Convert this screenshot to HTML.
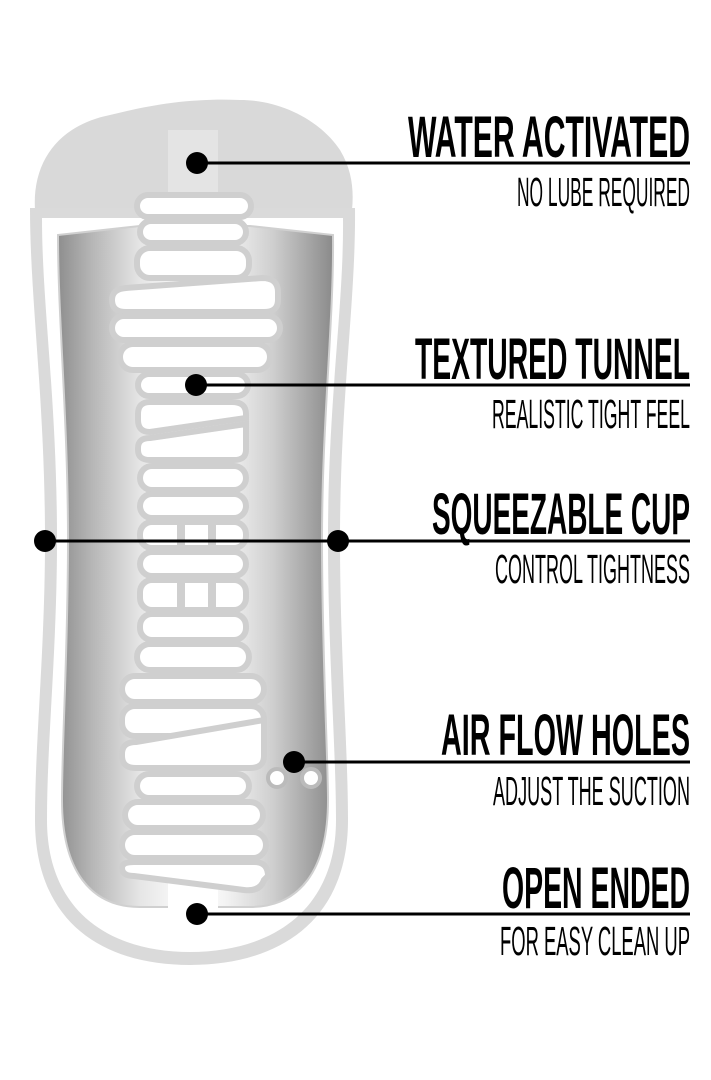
<!DOCTYPE html>
<html><head><meta charset="utf-8"><style>html,body{margin:0;padding:0;background:#fff;}svg{display:block}</style></head>
<body>
<svg width="711" height="1080" viewBox="0 0 711 1080" xmlns="http://www.w3.org/2000/svg">
<defs>
<linearGradient id="cav" x1="0" x2="1" y1="0" y2="0">
<stop offset="0" stop-color="#8e8e8e"/>
<stop offset="0.12" stop-color="#b5b5b5"/>
<stop offset="0.3" stop-color="#e6e6e6"/>
<stop offset="0.45" stop-color="#fafafa"/>
<stop offset="0.6" stop-color="#f5f5f5"/>
<stop offset="0.78" stop-color="#cfcfcf"/>
<stop offset="0.93" stop-color="#a0a0a0"/>
<stop offset="1" stop-color="#8a8a8a"/>
</linearGradient>
</defs>
<!-- cap -->
<path d="M35 210 C32 160 60 125 110 115 C150 105 190 98 240 100 C280 100 320 120 340 150 C352 170 354 190 352 210 Z" fill="#d9d9d9"/>
<rect x="168" y="130" width="50" height="70" fill="#e4e4e4"/>
<!-- outer body band -->
<path d="M30 208 L355 208 C356 300 340 400 340 540 C340 650 348 750 348 820 C348 920 280 965 190 965 C100 965 35 920 35 820 C35 740 45 650 45 540 C45 400 30 300 30 208 Z" fill="#dadada"/>
<path d="M42 218 L343 218 C344 305 328 400 328 540 C328 650 336 750 336 820 C336 910 272 952 190 952 C108 952 47 910 47 820 C47 740 57 650 57 540 C57 400 42 305 42 218 Z" fill="#fff"/>
<!-- cavity -->
<path d="M58 235 L140 226 L250 226 L333 235 C334 320 322 420 322 540 C322 650 328 760 328 800 C328 870 300 907 250 907 L140 907 C90 907 62 870 62 800 C62 740 68 650 68 540 C68 420 58 320 58 235 Z" fill="url(#cav)" stroke="#d0d0d0" stroke-width="2"/>
<rect x="168" y="870" width="50" height="50" fill="#fff"/>
<!-- tunnel rungs -->
<g fill="#fff" stroke="#cfcfcf" stroke-width="6">
<rect x="137" y="195" width="114" height="22" rx="11"/>
<rect x="140" y="221" width="106" height="22" rx="11"/>
<rect x="137" y="248" width="112" height="30" rx="13"/>
<path d="M126 288 L262 278 Q278 278 278 292 L278 300 Q278 312 264 312 L126 312 Q112 312 112 300 L112 300 Q112 289 126 288 Z"/>
<rect x="112" y="316" width="168" height="24" rx="12"/>
<rect x="120" y="344" width="150" height="26" rx="13"/>
<rect x="138" y="374" width="110" height="22" rx="11"/>
<path d="M150 402 L232 402 Q246 402 246 414 L246 418 L150 432 Q138 432 138 420 L138 414 Q138 402 150 402 Z"/>
<path d="M150 438 L246 424 L246 450 Q246 460 234 460 L150 460 Q138 460 138 450 L138 448 Q138 438 150 438 Z"/>
<rect x="140" y="466" width="106" height="24" rx="12"/>
<rect x="140" y="494" width="106" height="24" rx="12"/>
<rect x="140" y="522" width="106" height="26" rx="12"/>
<rect x="140" y="552" width="106" height="24" rx="12"/>
<rect x="140" y="580" width="106" height="30" rx="12"/>
<rect x="140" y="614" width="106" height="26" rx="12"/>
<rect x="137" y="644" width="112" height="26" rx="13"/>
<rect x="122" y="676" width="142" height="26" rx="13"/>
<rect x="122" y="706" width="142" height="30" rx="13"/>
<path d="M136 742 L264 720 L264 756 Q264 768 250 768 L136 768 Q122 768 122 756 L122 754 Q122 742 136 742 Z"/>
<rect x="137" y="774" width="112" height="24" rx="12"/>
<rect x="125" y="802" width="138" height="26" rx="13"/>
<rect x="122" y="832" width="144" height="26" rx="13"/>
<path d="M134 862 L254 862 Q268 862 268 876 L264 880 Q260 892 244 890 L134 876 Q122 876 122 868 Q122 862 134 862 Z"/>
</g>
<g fill="#cfcfcf">
<rect x="177" y="522" width="8" height="26"/><rect x="208" y="522" width="8" height="26"/>
<rect x="177" y="580" width="8" height="30"/><rect x="208" y="580" width="8" height="30"/>
</g>
<!-- air holes -->
<circle cx="277" cy="778" r="9" fill="#fff" stroke="#bbb" stroke-width="4"/>
<circle cx="311" cy="778" r="9" fill="#fff" stroke="#bbb" stroke-width="4"/>
<!-- lines and dots -->
<g stroke="#000" stroke-width="3">
<line x1="197" y1="163" x2="690" y2="163"/>
<line x1="196" y1="385" x2="690" y2="385"/>
<line x1="45" y1="541" x2="690" y2="541"/>
<line x1="294" y1="762" x2="690" y2="762"/>
<line x1="197" y1="914" x2="690" y2="914"/>
</g>
<g fill="#000">
<circle cx="197" cy="163" r="11"/>
<circle cx="196" cy="385" r="11"/>
<circle cx="45" cy="541" r="11"/>
<circle cx="338" cy="541" r="11"/>
<circle cx="294" cy="762" r="11"/>
<circle cx="197" cy="914" r="11"/>
</g>
<g font-family="'Liberation Sans Narrow','Liberation Sans',sans-serif" fill="#000">
<g font-weight="bold" font-size="58">
<text x="408" y="157" textLength="282" lengthAdjust="spacingAndGlyphs">WATER ACTIVATED</text>
<text x="415" y="379" textLength="275" lengthAdjust="spacingAndGlyphs">TEXTURED TUNNEL</text>
<text x="432" y="534" textLength="258" lengthAdjust="spacingAndGlyphs">SQUEEZABLE CUP</text>
<text x="441" y="755" textLength="249" lengthAdjust="spacingAndGlyphs">AIR FLOW HOLES</text>
<text x="502" y="908" textLength="188" lengthAdjust="spacingAndGlyphs">OPEN ENDED</text>
</g>
<g font-size="41">
<text x="517" y="206" textLength="173" lengthAdjust="spacingAndGlyphs">NO LUBE REQUIRED</text>
<text x="492" y="428" textLength="198" lengthAdjust="spacingAndGlyphs">REALISTIC TIGHT FEEL</text>
<text x="495" y="583" textLength="195" lengthAdjust="spacingAndGlyphs">CONTROL TIGHTNESS</text>
<text x="493" y="805" textLength="197" lengthAdjust="spacingAndGlyphs">ADJUST THE SUCTION</text>
<text x="500" y="955" textLength="190" lengthAdjust="spacingAndGlyphs">FOR EASY CLEAN UP</text>
</g>
</g>
</svg>
</body></html>
